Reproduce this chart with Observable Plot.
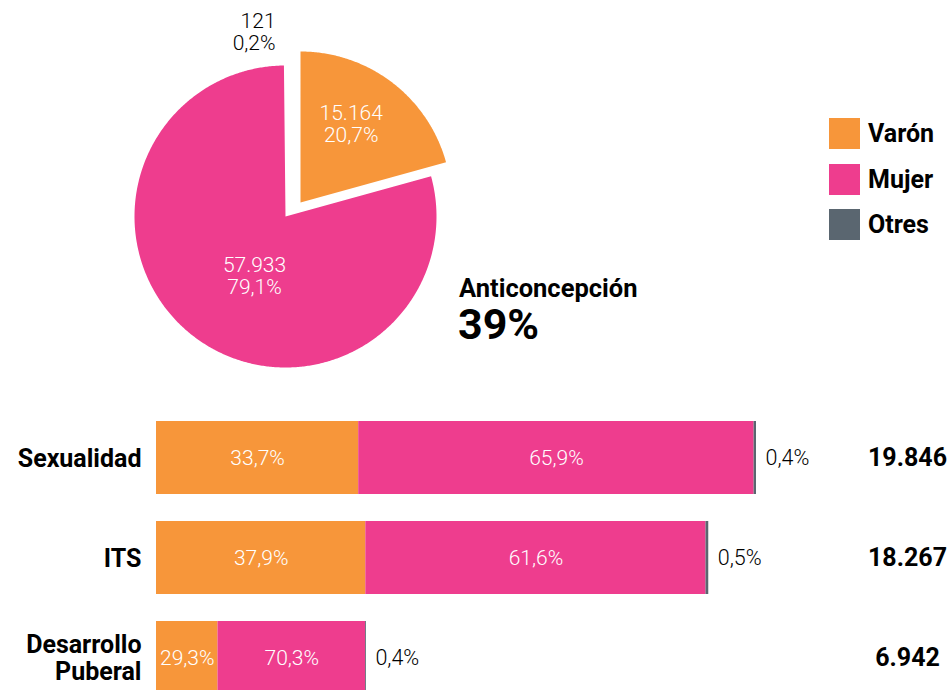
<!DOCTYPE html>
<html>
<head>
<meta charset="utf-8">
<script src="https://cdn.jsdelivr.net/npm/d3@7"></script>
<script src="https://cdn.jsdelivr.net/npm/@observablehq/plot@0.6"></script>
<style>
  html, body { margin: 0; padding: 0; background: #fff; overflow: hidden; }
  #root { position: relative; width: 949px; height: 690px; font-family: Roboto, "Noto Sans", sans-serif; color: #000; }
  #pie { position: absolute; left: 0; top: 0; }
  #bars { position: absolute; left: 0; top: 395px; }
  .legend { position: absolute; left: 829px; top: 118px; }
  .legend .item { display: flex; align-items: center; height: 31px; margin-bottom: 14.5px; font-weight: 700; font-size: 25px; }
  .legend .sw { width: 31px; height: 31px; margin-right: 8px; }
  .head1 { position: absolute; left: 459px; top: 276px; font-weight: 700; font-size: 25.5px; line-height: 25.5px; white-space: nowrap; }
  .head2 { position: absolute; left: 458px; top: 303px; font-weight: 700; font-size: 43px; line-height: 43px; white-space: nowrap; }
</style>
</head>
<body>
<div id="root">
  <div id="pie"></div>
  <div id="bars"></div>
  <div class="legend" id="legend"></div>
  <div class="head1" id="head1"></div>
  <div class="head2" id="head2"></div>
</div>
<script>
// ---------- DATA ----------
const sexes = ["Varón", "Mujer", "Otres"];
const sexColors = ["#F7963A", "#EE3D8E", "#5A6670"];

// Pie: Anticoncepción
const pieTitle = "Anticoncepción";
const pieShare = "39%";
const pieCounts = [15164, 57933, 121];

// Bars
const categories = ["Sexualidad", "ITS", "Desarrollo\nPuberal"];
const totals = [19846, 18267, 6942];
const varonPct = [33.7, 37.9, 29.3];
const mujerPct = [65.9, 61.6, 70.3];
const otresPct = [0.4, 0.5, 0.4];

// ---------- FORMAT ----------
const loc = d3.formatLocale({decimal: ",", thousands: ".", grouping: [3], currency: ["$", ""]});
const fmtInt = loc.format(",d");
const fmtPct = v => loc.format(".1f")(v) + "%";

const FONT = "Roboto, 'Noto Sans', sans-serif";

// ---------- PIE ----------
const pieTotal = d3.sum(pieCounts);
const arcs = d3.pie().sort(null).value(d => d)(pieCounts);

function slicePoints(a, i) {
  const sex = sexes[i];
  const pts = [{sex, x: 0, y: 0}];
  const span = a.endAngle - a.startAngle;
  const n = Math.max(2, Math.ceil(span / (Math.PI / 360)));
  for (let k = 0; k <= n; k++) {
    const t = a.startAngle + span * k / n;
    pts.push({sex, x: Math.sin(t), y: Math.cos(t)});
  }
  pts.push({sex, x: 0, y: 0});
  return pts;
}
const slices = arcs.map(slicePoints);

function labelAt(i, r) {
  const a = arcs[i];
  const t = (a.startAngle + a.endAngle) / 2;
  return [{
    x: r * Math.sin(t), y: r * Math.cos(t),
    text: fmtInt(pieCounts[i]) + "\n" + fmtPct(pieCounts[i] / pieTotal * 100)
  }];
}

// geometry: radius in px and center in px within the pie svg
const R = 151, CX = 285, CY = 216, PW = 470, PH = 390;
const explode = {dx: 15, dy: -14};

const pie = Plot.plot({
  width: PW, height: PH,
  margin: 0,
  x: {domain: [-CX / R, (PW - CX) / R], axis: null},
  y: {domain: [-(PH - CY) / R, CY / R], axis: null},
  color: {domain: sexes, range: sexColors},
  style: {fontFamily: FONT, background: "transparent"},
  marks: [
    // the "Otres" wedge (0,2%) is too thin to show in the original, only its label is drawn
    Plot.line(slices[1], {x: "x", y: "y", z: "sex", fill: "sex", stroke: "none"}),
    Plot.line(slices[0], {x: "x", y: "y", z: "sex", fill: "sex", stroke: "none", dx: explode.dx, dy: explode.dy}),
    Plot.text(labelAt(0, 0.62), {x: "x", y: "y", text: "text", fill: "white", fontSize: 21, fontWeight: 300, lineHeight: 1.05, dx: explode.dx - 6, dy: explode.dy - 4}),
    Plot.text(labelAt(1, 0.44), {x: "x", y: "y", text: "text", fill: "white", fontSize: 21, fontWeight: 300, lineHeight: 1.05, dx: 9, dy: 6}),
    Plot.text(labelAt(2, 1.22), {x: "x", y: "y", text: "text", fill: "black", fontSize: 21, fontWeight: 300, lineHeight: 1.05, textAnchor: "end", dx: -9})
  ]
});
document.getElementById("pie").appendChild(pie);

// legend + headline
const legend = document.getElementById("legend");
sexes.forEach((s, i) => {
  const item = document.createElement("div");
  item.className = "item";
  const sw = document.createElement("div");
  sw.className = "sw";
  sw.style.background = sexColors[i];
  const lab = document.createElement("span");
  lab.textContent = s;
  item.appendChild(sw); item.appendChild(lab);
  legend.appendChild(item);
});
document.getElementById("head1").textContent = pieTitle;
document.getElementById("head2").textContent = pieShare;

// ---------- BARS ----------
const rows = [];
categories.forEach((c, j) => {
  const pcts = [varonPct[j], mujerPct[j], otresPct[j]];
  sexes.forEach((s, i) => rows.push({cat: c, sex: s, pct: pcts[i], value: totals[j] * pcts[i] / 100, total: totals[j]}));
});
const catRows = categories.map((c, j) => ({cat: c, total: totals[j]}));
const inner = rows.filter(d => d.sex !== "Otres");
const otresRows = rows.filter(d => d.sex === "Otres");

const bars = Plot.plot({
  width: 949, height: 300,
  marginLeft: 156, marginRight: 193, marginTop: 25, marginBottom: 1,
  x: {domain: [0, d3.max(totals)], axis: null},
  y: {domain: categories, axis: null, paddingInner: 0.274, paddingOuter: 0},
  color: {domain: sexes, range: sexColors},
  style: {fontFamily: FONT, background: "transparent", overflow: "visible"},
  marks: [
    Plot.barX(rows, {x: "value", y: "cat", fill: "sex"}),
    Plot.text(inner, Plot.stackX({x: "value", y: "cat", text: d => fmtPct(d.pct), fill: "white", fontSize: 21, fontWeight: 300})),
    Plot.text(otresRows, {x: "total", y: "cat", text: d => fmtPct(d.pct), textAnchor: "start", dx: 9, fill: "black", fontSize: 21.5, fontWeight: 300}),
    Plot.text(catRows, {y: "cat", text: d => fmtInt(d.total), frameAnchor: "right", textAnchor: "middle", dx: 151, fontSize: 25, fontWeight: 700, fill: "black"}),
    Plot.text(catRows, {y: "cat", text: "cat", frameAnchor: "left", textAnchor: "end", dx: -15, fontSize: 25, fontWeight: 700, lineHeight: 1.08, fill: "black"})
  ]
});
document.getElementById("bars").appendChild(bars);
</script>
</body>
</html>
